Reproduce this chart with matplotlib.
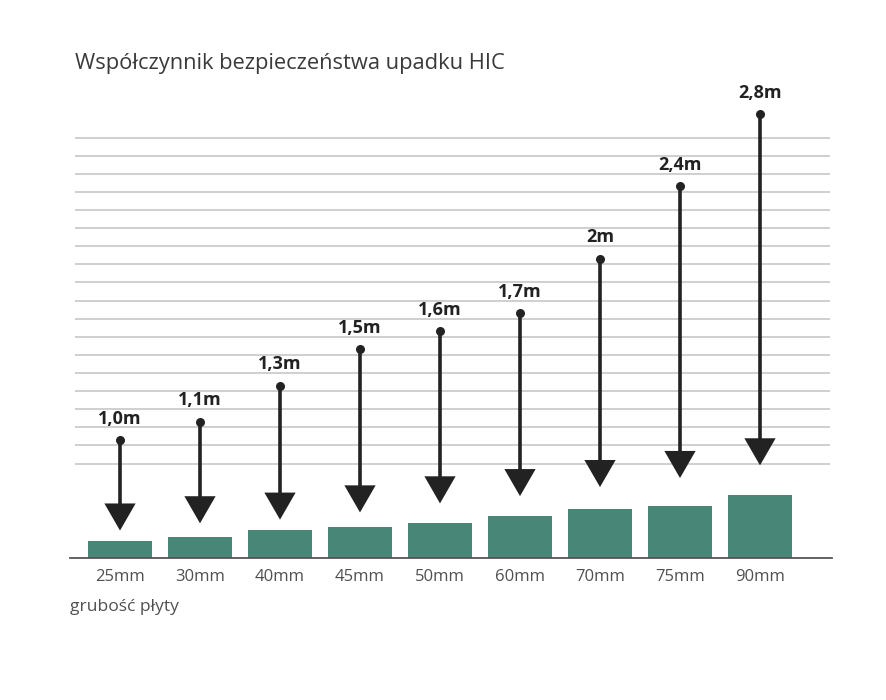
import matplotlib
matplotlib.use("Agg")
import matplotlib.pyplot as plt
import numpy as np

# data
thickness_labels = ["25mm", "30mm", "40mm", "45mm", "50mm", "60mm", "70mm", "75mm", "90mm"]
thickness_mm = [25, 30, 40, 45, 50, 60, 70, 75, 90]
drop_height_m = [1.0, 1.1, 1.3, 1.5, 1.6, 1.7, 2.0, 2.4, 2.8]
drop_labels = ["1,0m", "1,1m", "1,3m", "1,5m", "1,6m", "1,7m", "2m", "2,4m", "2,8m"]
arrow_tip_m = [0.50, 0.54, 0.56, 0.60, 0.65, 0.69, 0.74, 0.79, 0.86]
grid_levels_m = [0.87 + 0.1 * i for i in range(19)]

title = "Współczynnik bezpieczeństwa upadku HIC"
xlabel = "grubość płyty"

FONT = ["Open Sans", "DejaVu Sans"]
plt.rcParams['font.family'] = FONT

W, H = 887, 700
fig = plt.figure(figsize=(W / 100, H / 100), dpi=100)
fig.patch.set_facecolor("white")

left_px, right_px = 70, 832
bottom_px, top_px = 558, 100
ax = fig.add_axes([left_px / W, (H - bottom_px) / H, (right_px - left_px) / W, (bottom_px - top_px) / H])
x = np.arange(len(thickness_mm))
ax.set_xlim(-0.625, 8.9)
ax.set_ylim(0, (bottom_px - top_px) / 0.7)
ax.bar(x, thickness_mm, width=0.8, color="#488778", zorder=2)
for s in ["top", "right", "left"]:
    ax.spines[s].set_visible(False)
ax.spines["bottom"].set_color("#555555")
ax.spines["bottom"].set_linewidth(1.3)
ax.set_yticks([])
ax.set_xticks(x)
ax.set_xticklabels(thickness_labels, fontsize=12, color="#505050")
ax.tick_params(axis="x", length=0, pad=8)
ax.patch.set_alpha(0)

ax2 = ax.twinx()
ax2.set_ylim(63.1 / 181.1, (bottom_px - top_px + 63.1) / 181.1)
ax2.set_xlim(ax.get_xlim())
for s in ["top", "right", "left", "bottom"]:
    ax2.spines[s].set_visible(False)
ax2.set_yticks([])
ax2.hlines(grid_levels_m, -0.5625, 8.875, color="#cfcfcf", lw=1.4, zorder=0)
ax.set_zorder(2)
ax2.set_zorder(3)

for xi, top, tip, lab in zip(x, drop_height_m, arrow_tip_m, drop_labels):
    ax2.annotate("", xy=(xi, tip), xytext=(xi, top),
                 arrowprops=dict(arrowstyle="-|>,head_length=0.78,head_width=0.45",
                                 lw=2.6, color="#222222", shrinkA=0, shrinkB=0,
                                 mutation_scale=20, joinstyle="miter", capstyle="butt"))
    ax2.annotate(lab, xy=(xi, top), xytext=(0, 9), textcoords="offset points",
                 ha="center", va="bottom", fontsize=13, fontweight="bold", color="#222222")
ax2.scatter(x, drop_height_m, s=30, color="#222222", zorder=5)

fig.text(75 / W, 1 - 63 / H, title, fontsize=15.75, fontweight="normal", color="#3a3a3a",
         ha="left", va="center")
fig.text(70 / W, 1 - 607 / H, xlabel, fontsize=12.6, fontweight="normal", color="#505050",
         ha="left", va="center")

fig.savefig("out.png", dpi=100, facecolor="white")
